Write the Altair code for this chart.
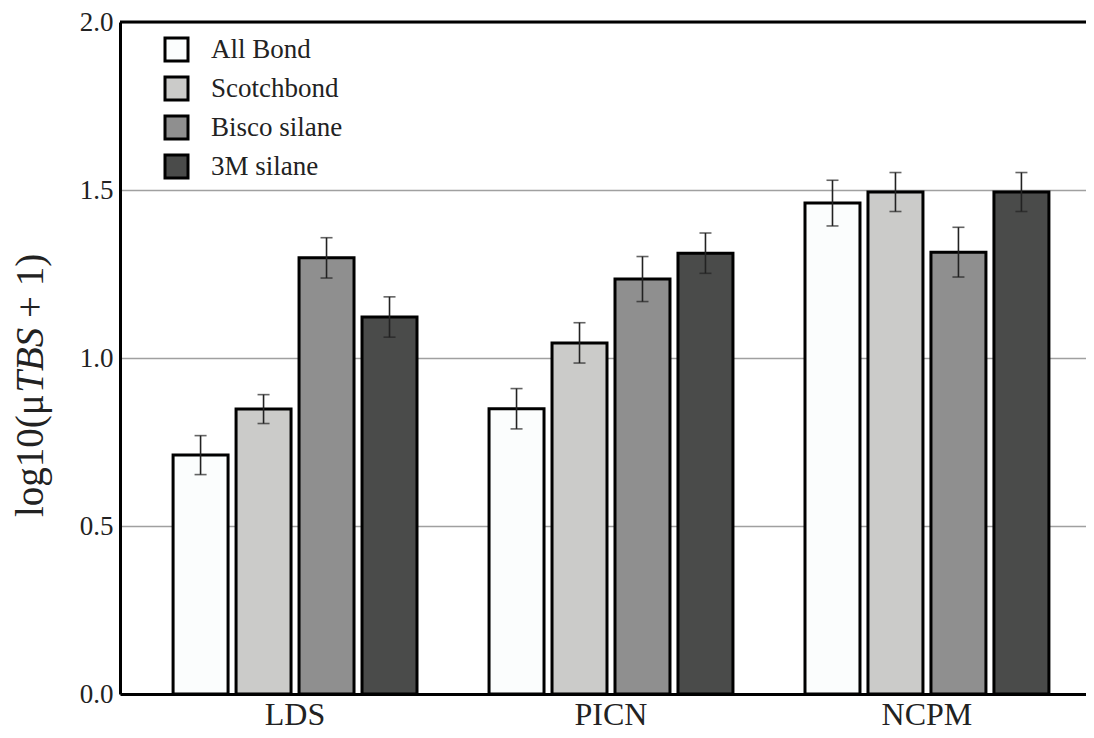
import altair as alt
import pandas as pd

categories = ["LDS", "PICN", "NCPM"]
series = ["All Bond", "Scotchbond", "Bisco silane", "3M silane"]
colors = ["#fbfdfd", "#cbcbc9", "#8f8f8f", "#4a4b4a"]

# means per series, across categories (LDS, PICN, NCPM)
all_bond = [0.711, 0.849, 1.461]
scotchbond = [0.848, 1.045, 1.494]
bisco_silane = [1.298, 1.235, 1.315]
m3_silane = [1.122, 1.312, 1.494]

# error half-widths
all_bond_err = [0.058, 0.060, 0.068]
scotchbond_err = [0.043, 0.060, 0.058]
bisco_silane_err = [0.060, 0.067, 0.074]
m3_silane_err = [0.060, 0.060, 0.058]

y_ticks = [0.0, 0.5, 1.0, 1.5, 2.0]
title_parts = ["log10(μ", "TBS", "+ 1)"]

means = [all_bond, scotchbond, bisco_silane, m3_silane]
errs = [all_bond_err, scotchbond_err, bisco_silane_err, m3_silane_err]
rows = []
for s, mv, ev in zip(series, means, errs):
    for c, m, e in zip(categories, mv, ev):
        rows.append({"Category": c, "Series": s, "Mean": m, "lo": m - e, "hi": m + e})
df = pd.DataFrame(rows)

FONT = "Liberation Serif"

x_enc = alt.X(
    "Category:N",
    sort=categories,
    scale=alt.Scale(range=[0, 982], paddingInner=0.228, paddingOuter=0.168),
    axis=alt.Axis(
        title=None, labelAngle=0, ticks=False, domainColor="black", domainWidth=3,
        labelFont=FONT, labelFontSize=32, labelColor="#222", labelPadding=30,
        labelBaseline="alphabetic", grid=False,
    ),
)
xoff = alt.XOffset("Series:N", sort=series, scale=alt.Scale(paddingInner=0.127, paddingOuter=0))
y_enc = alt.Y(
    "Mean:Q",
    scale=alt.Scale(domain=[0, 2], nice=False),
    axis=alt.Axis(
        title=None, values=y_ticks, format=".1f", ticks=False, domainColor="black",
        domainWidth=3, grid=True, gridColor="#a0a0a0", gridWidth=1.5,
        labelFont=FONT, labelFontSize=27, labelColor="#222", labelPadding=7,
    ),
)

base = alt.Chart(df)

bars = base.mark_bar(stroke="black", strokeWidth=3).encode(
    x=x_enc,
    xOffset=xoff,
    y=y_enc,
    fill=alt.Fill(
        "Series:N",
        sort=series,
        scale=alt.Scale(domain=series, range=colors),
        legend=alt.Legend(
            title=None, orient="none", legendX=43, legendY=14, padding=0,
            symbolType="square", symbolSize=529, symbolStrokeColor="black",
            symbolStrokeWidth=3, symbolOpacity=1,
            labelFont=FONT, labelFontSize=27, labelColor="#222", labelOffset=21,
            rowPadding=4,
        ),
    ),
)

err_rule = base.mark_rule(color="#222", strokeWidth=1.6).encode(
    x=alt.X("Category:N", sort=categories), xOffset=alt.XOffset("Series:N", sort=series),
    y="lo:Q", y2="hi:Q",
)
cap_lo = base.mark_tick(color="#222", thickness=1.6, size=12, orient="horizontal").encode(
    x=alt.X("Category:N", sort=categories), xOffset=alt.XOffset("Series:N", sort=series),
    y="lo:Q",
)
cap_hi = base.mark_tick(color="#222", thickness=1.6, size=12, orient="horizontal").encode(
    x=alt.X("Category:N", sort=categories), xOffset=alt.XOffset("Series:N", sort=series),
    y="hi:Q",
)

top_line = alt.Chart(alt.Data(values=[{"v": 2.0}])).mark_rule(color="black", strokeWidth=3).encode(
    y=alt.datum(2.0)
)

fs = 39
tx = -77
t1 = alt.Chart(alt.Data(values=[{"t": title_parts[0]}])).mark_text(
    angle=270, align="left", baseline="alphabetic", font=FONT, fontSize=fs, color="#222"
).encode(x=alt.value(tx), y=alt.value(495), text="t:N")
t2 = alt.Chart(alt.Data(values=[{"t": title_parts[1]}])).mark_text(
    angle=270, align="left", baseline="alphabetic", font=FONT, fontSize=fs, fontStyle="italic", color="#222"
).encode(x=alt.value(tx), y=alt.value(370.7), text="t:N")
t3 = alt.Chart(alt.Data(values=[{"t": title_parts[2]}])).mark_text(
    angle=270, align="left", baseline="alphabetic", font=FONT, fontSize=fs, color="#222"
).encode(x=alt.value(tx), y=alt.value(295.9), text="t:N")

chart = alt.layer(bars, err_rule, cap_lo, cap_hi, top_line, t1, t2, t3).properties(
    width=966,
    height=672,
    padding={"left": 112, "top": 14, "right": 0, "bottom": 38},
    autosize=alt.AutoSizeParams(type="none"),
).configure_view(strokeWidth=0).configure(background="white")

chart.save("out.html", embed_options={"renderer": "svg", "actions": False})
